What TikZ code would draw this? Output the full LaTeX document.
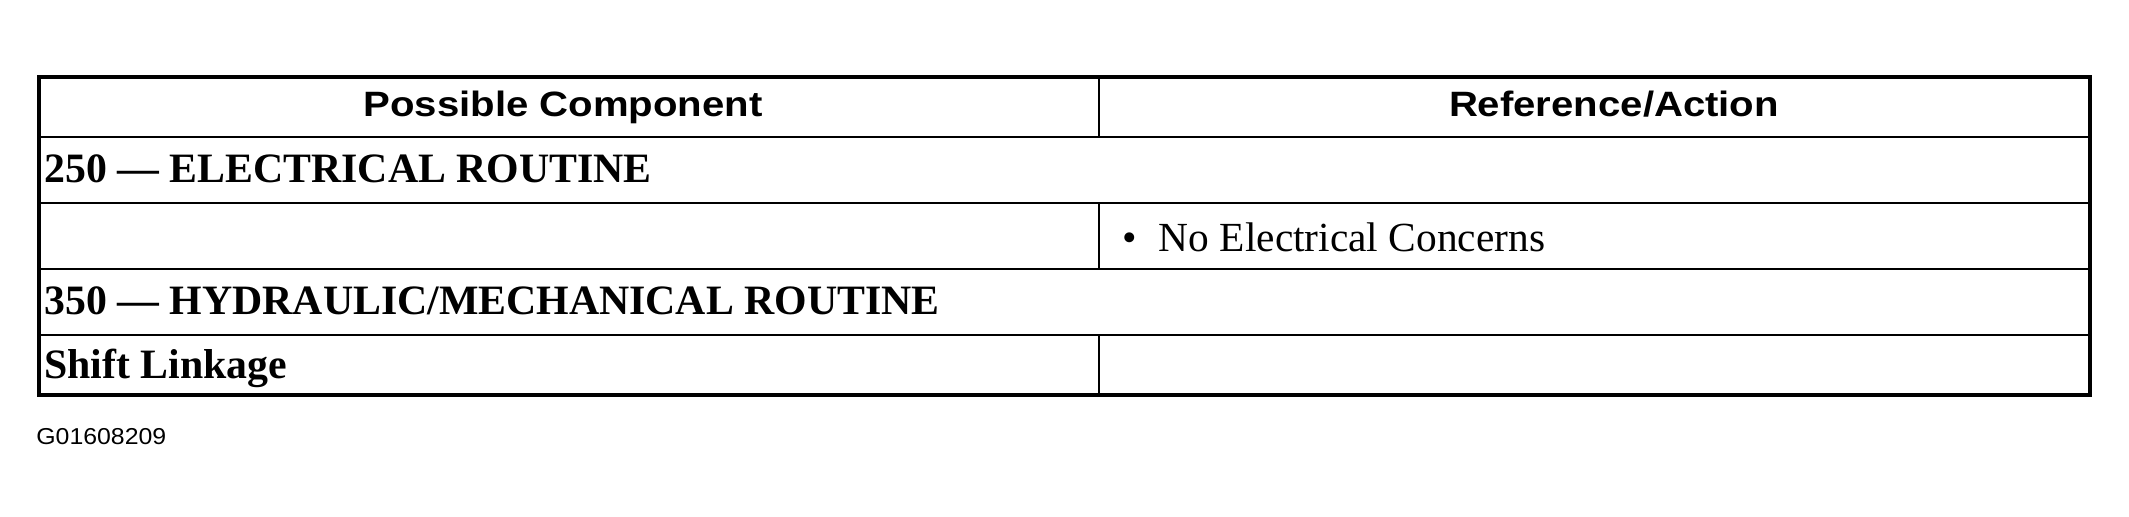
\documentclass[tikz,border=0pt]{standalone}
\usepackage{fontspec}
\setmainfont{Liberation Serif}
\newfontfamily\headfont[FakeStretch=1.14]{Liberation Sans}
\newfontfamily\tagfont[FakeStretch=1.08]{Liberation Sans}
\tikzset{
  head/.style={anchor=base, inner sep=0pt, font=\headfont\bfseries\fontsize{17.6pt}{20pt}\selectfont},
  cell/.style={anchor=base west, inner sep=0pt, font=\bfseries\fontsize{20.9pt}{24pt}\selectfont},
  note/.style={anchor=base west, inner sep=0pt, font=\fontsize{20.7pt}{24pt}\selectfont},
  tag/.style={anchor=base west, inner sep=0pt, font=\tagfont\fontsize{11.5pt}{13pt}\selectfont},
  frame/.style={line width=2pt},
  rule/.style={line width=1pt}
}
\begin{document}
\begin{tikzpicture}[x=0.5pt,y=-0.5pt]
  \useasboundingbox (0,0) rectangle (2129,516);

  % table corners and row lines
  \coordinate (tl) at (39,77);
  \coordinate (br) at (2090,395);
  \coordinate (l1) at (39,137);  \coordinate (r1) at (2090,137);
  \coordinate (l2) at (39,203);  \coordinate (r2) at (2090,203);
  \coordinate (l3) at (39,269);  \coordinate (r3) at (2090,269);
  \coordinate (l4) at (39,335);  \coordinate (r4) at (2090,335);
  \coordinate (m0) at (1099,77);  \coordinate (m1) at (1099,137);
  \coordinate (m2) at (1099,203); \coordinate (m3) at (1099,269);
  \coordinate (m4) at (1099,335); \coordinate (m5) at (1099,395);

  \node[head] (pc) at (563,116) {Possible Component};
  \node[head] (ra) at (1614,116) {Reference/Action};
  \node[cell] (er) at (44,182) {250 — ELECTRICAL ROUTINE};
  \node[note] (nc) at (1122,251) {•\hspace{11pt}No Electrical Concerns};
  \node[cell] (hm) at (44,314) {350 — HYDRAULIC/MECHANICAL ROUTINE};
  \node[cell] (sl) at (44,378) {Shift Linkage};
  \node[tag] (id) at (36,444) {G01608209};

  \draw[rule] (l1) -- (r1);
  \draw[rule] (l2) -- (r2);
  \draw[rule] (l3) -- (r3);
  \draw[rule] (l4) -- (r4);
  \draw[rule] (m0) -- (m1);
  \draw[rule] (m2) -- (m3);
  \draw[rule] (m4) -- (m5);
  \draw[frame] (tl) rectangle (br);
\end{tikzpicture}
\end{document}
